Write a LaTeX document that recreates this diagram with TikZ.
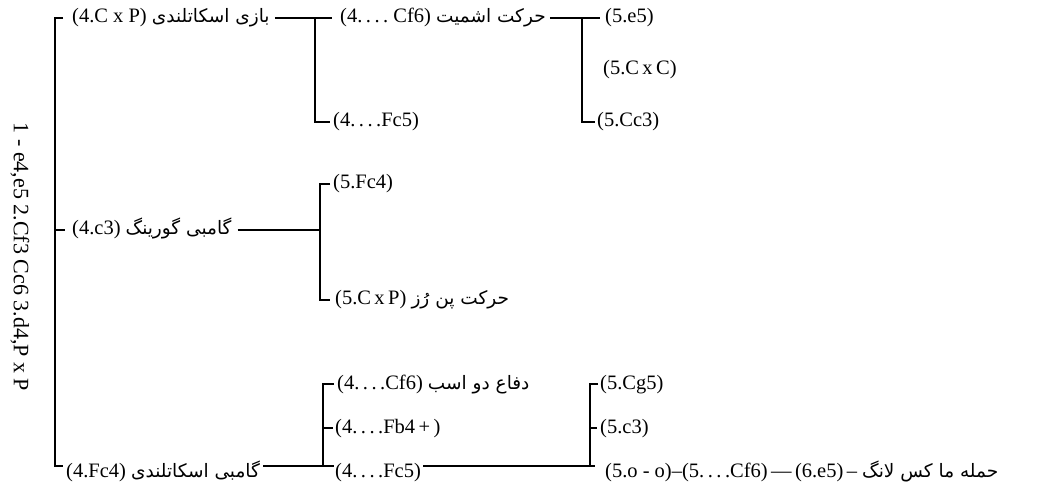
\documentclass[tikz,border=0pt]{standalone}
\usepackage{fontspec}
\setmainfont{Liberation Serif}
\newfontfamily\fa[Script=Arabic]{DejaVu Sans}
\TeXXeTstate=1
\newcommand{\fatext}[1]{{\fa\fontsize{18.5}{20}\selectfont\beginR #1\endR}}
\newcommand{\dd}{.\kern3.5pt.\kern3.5pt.\kern3.5pt.}
\begin{document}
\begin{tikzpicture}[x=1pt,y=-1pt,
  lbl/.style={anchor=west, inner sep=0pt, font=\fontsize{20.5}{23}\selectfont, text height=15pt, text depth=5pt},
  conn/.style={line width=1.8pt}]
\path[use as bounding box, fill=white] (0,0) rectangle (1048,502);
% side label
\node[inner sep=0pt, font=\fontsize{22}{24}\selectfont, rotate=-90] (t) at (20,257) {1 - e4,e5 2.Cf3 Cc6 3.d4,P x P};
% row 1
\node[lbl] (a1) at (72,18) {(4.C x P) \fatext{بازی اسکاتلندی}};
\node[lbl] (b1) at (340,18) {(4\dd\ Cf6) \fatext{حرکت اشمیت}};
\node[lbl] (b2) at (333,122) {(4\dd Fc5)};
\node[lbl] (c1) at (605,18) {(5.e5)};
\node[lbl] (c2) at (603,70) {(5.C\,x\,C)};
\node[lbl] (c3) at (597,122) {(5.Cc3)};
% row 2
\node[lbl] (a2) at (72,230) {(4.c3) \fatext{گامبی گورینگ}};
\node[lbl] (d1) at (333,184) {(5.Fc4)};
\node[lbl] (d2) at (335,300) {(5.C\,x\,P) \fatext{حرکت پن رُز}};
% row 3
\node[lbl] (a3) at (66,472) {(4.Fc4) \fatext{گامبی اسکاتلندی}};
\node[lbl] (e1) at (337,384) {(4\dd Cf6) \fatext{دفاع دو اسب}};
\node[lbl] (e2) at (335,428) {(4\dd Fb4\,+\,)};
\node[lbl] (e3) at (335,472) {(4\dd Fc5)};
\node[lbl] (f1) at (600,384) {(5.Cg5)};
\node[lbl] (f2) at (600,428) {(5.c3)};
\node[lbl] (f3) at (605,472) {(5.o - o)--(5\dd Cf6)\,---\,(6.e5)\,-- \fatext{حمله ما کس لانگ}};
% spines
\coordinate (s0) at (55,0);
\coordinate (s1) at (315,0);
\coordinate (s2) at (582,0);
\coordinate (s3) at (320,0);
\coordinate (s4) at (323,0);
\coordinate (s5) at (590,0);
% left brace
\draw[conn] ([xshift=-9]a1.west) -- (a1.west -| s0) -- ([yshift=6]a3.west -| s0) -- ([xshift=-3,yshift=6]a3.west);
\draw[conn] (a2.west -| s0) -- ([xshift=-7]a2.west);
% row 1
\draw[conn] ([xshift=5]a1.east) -- ([xshift=-8]b1.west);
\draw[conn] (a1.east -| s1) -- (b2.west -| s1) -- ([xshift=-3]b2.west);
\draw[conn] ([xshift=4]b1.east) -- ([xshift=-5]c1.west);
\draw[conn] (b1.east -| s2) -- (c3.west -| s2) -- ([xshift=-2]c3.west);
% row 2
\draw[conn] ([xshift=6]a2.east) -- (a2.east -| s3);
\draw[conn] ([xshift=-3]d1.west) -- (d1.west -| s3) -- (d2.west -| s3) -- ([xshift=-5]d2.west);
% row 3
\draw[conn] ([xshift=3,yshift=6]a3.east) -- ([yshift=6]a3.east -| s4);
\draw[conn] ([xshift=-3]e1.west) -- (e1.west -| s4) -- ([yshift=6]e3.west -| s4) -- ([xshift=-1,yshift=6]e3.west);
\draw[conn] (e2.west -| s4) -- ([xshift=-2]e2.west);
\draw[conn] ([xshift=2,yshift=6]e3.east) -- ([yshift=6]e3.east -| s5);
\draw[conn] ([xshift=-2]f1.west) -- (f1.west -| s5) -- ([yshift=6]f3.west -| s5) -- ([xshift=-10,yshift=6]f3.west);
\draw[conn] (f2.west -| s5) -- ([xshift=-3]f2.west);
\end{tikzpicture}
\end{document}
